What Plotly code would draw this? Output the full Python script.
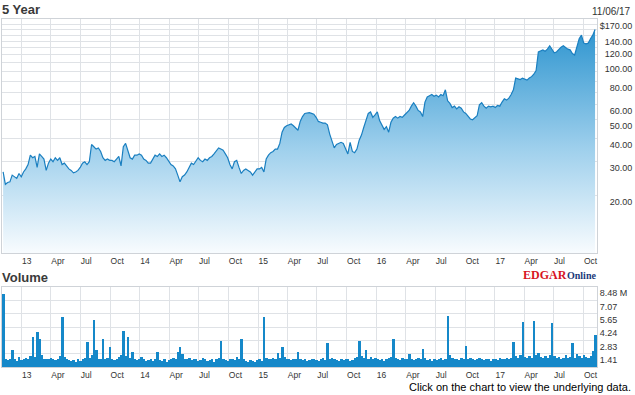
import pandas as pd
import plotly.graph_objects as go

# ---------------- data ----------------
start_date = "2012-11-05"
n_weeks = 262
week_dates = pd.date_range(start_date, periods=n_weeks, freq="7D")

price = [
    26.5, 22.8, 23.3, 23.5, 25.5, 25.0, 24.5, 26.0, 25.0, 26.5,
    27.5, 29.0, 32.5, 31.5, 32.0, 28.0, 33.0, 32.0, 31.0, 27.0,
    29.5, 31.0, 30.0, 31.5, 30.5, 31.5, 29.0, 29.5, 28.5, 27.5,
    27.0, 26.2, 26.5, 27.0, 28.0, 29.5, 30.0, 29.0, 30.0, 37.0,
    36.0, 35.0, 35.5, 34.0, 31.5, 30.5, 31.0, 30.5, 30.5, 30.0,
    31.0, 32.0, 28.5, 36.0, 37.5, 34.0, 31.5, 31.0, 32.5, 32.5,
    33.0, 32.5, 31.0, 30.5, 29.5, 29.5, 31.0, 32.5, 32.0, 33.0,
    32.0, 32.5, 31.5, 30.0, 29.0, 28.5, 27.5, 25.5, 23.5, 25.0,
    25.5, 26.5, 28.0, 29.5, 29.0, 30.5, 31.5, 30.5, 30.0, 31.0,
    30.5, 31.5, 32.0, 33.0, 34.5, 35.5, 35.0, 34.5, 33.0, 31.5,
    29.0, 27.5, 30.0, 30.5, 28.0, 26.0, 27.0, 27.5, 27.0, 26.5,
    25.5, 26.5, 27.5, 27.5, 28.0, 26.5, 31.0, 32.5, 33.5, 34.0,
    35.0, 35.0, 37.5, 43.0, 45.5, 46.5, 47.0, 47.5, 46.5, 45.0,
    44.0, 49.0, 52.0, 54.0, 54.5, 54.5, 54.0, 53.5, 51.5, 49.0,
    48.5, 48.0, 48.0, 47.0, 42.0, 38.0, 35.5, 37.0, 37.5, 38.0,
    37.5, 35.0, 33.0, 38.0, 34.0, 33.5, 35.0, 39.0, 41.5, 45.5,
    50.0, 54.0, 55.0, 51.5, 53.0, 55.0, 49.5, 47.0, 44.5, 46.0,
    43.0, 48.5, 51.0, 52.0, 51.0, 52.0, 51.5, 53.0, 54.5, 56.0,
    59.0, 61.5, 59.0, 56.0, 55.0, 52.0, 62.0, 66.0, 67.0, 68.0,
    66.5, 67.5, 66.0, 68.0, 67.0, 72.0, 63.0, 61.0, 58.0, 59.0,
    57.0, 58.5, 57.5, 55.0, 54.0, 52.0, 50.5, 50.0, 51.0, 52.5,
    60.0, 61.5, 59.0, 57.5, 59.0, 58.5, 59.0, 58.0, 59.5, 59.0,
    62.0, 64.5, 63.5, 65.0, 68.0, 72.0, 83.0, 82.0, 81.5, 83.0,
    82.0, 81.0, 83.0, 84.5, 87.0, 91.0, 114.0, 116.0, 117.0, 115.0,
    118.0, 123.0, 117.0, 113.0, 114.0, 118.0, 121.0, 123.0, 120.0, 118.0,
    117.0, 112.0, 110.0, 123.0, 134.0, 140.0, 127.0, 126.0, 127.0, 134.0,
    140.0, 150.0,
]

volume_m = [
    7.7, 0.9, 0.7, 0.8, 1.8, 0.9, 0.6, 1.1, 0.7, 0.8,
    1.0, 0.9, 1.2, 3.2, 1.1, 3.7, 3.0, 1.3, 0.9, 0.8,
    0.9, 1.0, 0.8, 0.7, 0.9, 1.2, 5.3, 1.1, 0.8, 0.7,
    0.6, 0.7, 0.5, 0.8, 0.6, 0.9, 1.0, 2.7, 1.0, 1.3,
    5.0, 1.8, 0.9, 0.8, 3.0, 0.9, 1.0, 2.1, 0.8, 0.7,
    0.9, 1.1, 1.3, 3.8, 1.2, 3.2, 1.0, 1.6, 0.8, 0.7,
    0.9, 1.1, 0.8, 0.6, 0.7, 0.8, 0.6, 0.9, 1.6, 0.7,
    0.6, 0.8, 0.5, 0.7, 0.9, 1.0, 0.8, 1.6, 2.1, 1.4,
    0.9, 0.8, 1.0, 0.7, 0.9, 0.8, 0.6, 0.7, 1.0, 0.8,
    0.6, 0.7, 0.8, 0.5, 0.9, 1.0, 2.8, 0.9, 0.7, 0.6,
    0.8, 0.9, 0.7, 1.1, 0.8, 3.0, 0.9, 0.6, 0.5, 0.7,
    0.6, 0.5, 0.7, 0.8, 0.6, 5.3, 1.0, 0.9, 0.8, 1.0,
    0.9, 1.5, 1.0, 2.1, 1.1, 0.9, 0.8, 0.7, 0.9, 0.8,
    1.6, 0.9, 0.7, 0.8, 0.6, 0.7, 0.9, 0.8, 0.7, 0.6,
    0.8, 1.0, 0.7, 2.5, 0.9, 1.0, 0.8, 0.7, 0.6, 0.8,
    0.7, 0.9, 0.8, 0.6, 0.7, 1.0, 1.1, 2.8, 1.2, 1.0,
    1.8, 0.9, 1.1, 0.8, 1.0, 0.9, 0.7, 0.8, 0.6, 0.9,
    1.0, 1.1, 3.0, 1.0, 0.9, 0.7, 1.0, 0.8, 0.9, 1.4,
    0.8, 0.7, 0.9, 1.0, 0.8, 1.9, 1.0, 0.7, 0.8, 0.6,
    0.9, 0.7, 0.8, 1.0, 0.7, 0.9, 5.4, 1.3, 1.0, 0.8,
    0.9, 0.7, 1.0, 0.8, 2.2, 0.9, 1.0, 0.8, 0.7, 0.8,
    1.0, 0.8, 0.7, 0.9, 0.8, 0.6, 0.9, 0.8, 0.7, 1.0,
    0.8, 0.9, 1.0, 0.8, 1.0, 2.7, 1.2, 1.0, 1.3, 4.8,
    1.1, 1.0, 1.2, 1.0, 4.9, 1.3, 1.5, 1.1, 1.0, 1.2,
    1.0, 1.3, 4.7, 1.2, 1.0, 1.1, 0.9, 1.0, 1.3, 1.0,
    1.1, 2.5, 1.0, 1.4, 1.2, 1.0, 1.3, 1.1, 1.0, 1.2,
    1.7, 3.4,
]

x_tick_dates = [
    "2013-01-01", "2013-04-01", "2013-07-01", "2013-10-01",
    "2014-01-01", "2014-04-01", "2014-07-01", "2014-10-01",
    "2015-01-01", "2015-04-01", "2015-07-01", "2015-10-01",
    "2016-01-01", "2016-04-01", "2016-07-01", "2016-10-01",
    "2017-01-01", "2017-04-01", "2017-07-01", "2017-10-01",
]
x_tick_labels = [
    "13", "Apr", "Jul", "Oct", "14", "Apr", "Jul", "Oct",
    "15", "Apr", "Jul", "Oct", "16", "Apr", "Jul", "Oct",
    "17", "Apr", "Jul", "Oct",
]

price_grid_vals = [20, 30, 40, 50, 60, 70, 80, 90, 100, 110, 120, 130, 140, 150, 160, 170]
price_labelled = {20: "20.00", 30: "30.00", 40: "40.00", 50: "50.00", 60: "60.00",
                  80: "80.00", 100: "100.00", 120: "120.00", 140: "140.00", 170: "$170.00"}

vol_tick_vals = [1.41, 2.83, 4.24, 5.65, 7.07, 8.48]
vol_tick_labels = ["1.41", "2.83", "4.24", "5.65", "7.07", "8.48 M"]

last_date_label = "11/06/17"
x_range = ["2012-10-31", "2017-11-12"]

# ---------------- figure ----------------
FIG = "\u2007"
def pad(s, width=7):
    return FIG * max(0, width - len(s)) + s

price_ticktext = [pad(price_labelled[v]) if v in price_labelled else "" for v in price_grid_vals]

grid = "#dfe2e6"
border = "#cfd3d8"
txt = "#333333"
lab_font = dict(family="Liberation Sans, Arial, sans-serif", size=9, color=txt)
xlab_font = dict(family="Liberation Sans, Arial, sans-serif", size=8.5, color=txt)

fig = go.Figure()

fig.add_trace(go.Scatter(
    x=week_dates, y=price, mode="lines",
    line=dict(color="#1a7fc0", width=1.2),
    fill="tozeroy",
    fillgradient=dict(type="vertical", start=10, stop=170,
                      colorscale=[[0, "#f7fbfe"], [0.45, "#9dcfec"], [1, "#2590cd"]]),
    xaxis="x", yaxis="y", hoverinfo="skip", showlegend=False,
))

fig.add_trace(go.Bar(
    x=week_dates, y=volume_m, marker=dict(color="#1588c9", line=dict(width=0)),
    width=6 * 86400000, xaxis="x2", yaxis="y2", hoverinfo="skip", showlegend=False,
))

xcommon = dict(
    type="date", range=x_range, tickmode="array", tickvals=x_tick_dates,
    ticktext=x_tick_labels, showgrid=True, gridcolor=grid, gridwidth=1,
    showline=True, linecolor=border, linewidth=1, mirror=True,
    ticks="", tickfont=xlab_font, ticklabelposition="outside right",
    zeroline=False, fixedrange=True,
)

fig.update_layout(
    width=635, height=395,
    margin=dict(l=0, r=0, t=0, b=0),
    paper_bgcolor="white", plot_bgcolor="white",
    bargap=0,
    xaxis=dict(domain=[1.5 / 635, 597 / 635], anchor="y", **xcommon),
    xaxis2=dict(domain=[1.5 / 635, 597 / 635], anchor="y2", **xcommon),
    yaxis=dict(
        type="log", domain=[1 - 253 / 395, 1 - 18.5 / 395],
        range=[0.995, 2.234], side="right", anchor="x",
        tickmode="array", tickvals=price_grid_vals, ticktext=price_ticktext,
        showgrid=True, gridcolor=grid, gridwidth=1,
        showline=True, linecolor=border, linewidth=1, mirror=True,
        ticks="", tickfont=lab_font, ticklabelposition="outside bottom",
        zeroline=False, fixedrange=True,
    ),
    yaxis2=dict(
        domain=[1 - 367 / 395, 1 - 287 / 395], range=[0, 8.48],
        side="right", anchor="x2",
        tickmode="array", tickvals=vol_tick_vals, ticktext=vol_tick_labels,
        showgrid=True, gridcolor=grid, gridwidth=1,
        showline=True, linecolor=border, linewidth=1, mirror=True,
        ticks="", tickfont=lab_font, ticklabelposition="outside bottom",
        zeroline=False, fixedrange=True,
    ),
    annotations=[
        dict(text="<b>5 Year</b>", xref="paper", yref="paper", x=0, y=1 - 9.5 / 395,
             xanchor="left", yanchor="middle", showarrow=False,
             font=dict(family="Liberation Sans, Arial, sans-serif", size=13, color="#3a3a3a")),
        dict(text="<b>Volume</b>", xref="paper", yref="paper", x=0, y=1 - 277 / 395,
             xanchor="left", yanchor="middle", showarrow=False,
             font=dict(family="Liberation Sans, Arial, sans-serif", size=13, color="#3a3a3a")),
        dict(text=last_date_label, xref="paper", yref="paper", x=633 / 635, y=1 - 11 / 395,
             xanchor="right", yanchor="middle", showarrow=False,
             font=dict(family="Liberation Sans, Arial, sans-serif", size=10, color=txt)),
        dict(text="<b>EDGAR</b>", xref="paper", yref="paper", x=521 / 635, y=1 - 274.5 / 395,
             xanchor="left", yanchor="middle", showarrow=False,
             font=dict(family="Liberation Serif, Times New Roman, serif", size=12, color="#d7141f")),
        dict(text="<b>Online</b>", xref="paper", yref="paper", x=565 / 635, y=1 - 275.5 / 395,
             xanchor="left", yanchor="middle", showarrow=False,
             font=dict(family="Liberation Serif, Times New Roman, serif", size=10, color="#1b3a7a")),
        dict(text="Click on the chart to view the underlying data.", xref="paper", yref="paper",
             x=633 / 635, y=1 - 387 / 395, xanchor="right", yanchor="middle", showarrow=False,
             font=dict(family="Liberation Sans, Arial, sans-serif", size=11, color="#000000")),
    ],
)

fig.write_html(
    "out.html",
    config={"displayModeBar": False},
    post_script="document.body.style.margin='0';document.body.style.overflow='hidden';",
)
